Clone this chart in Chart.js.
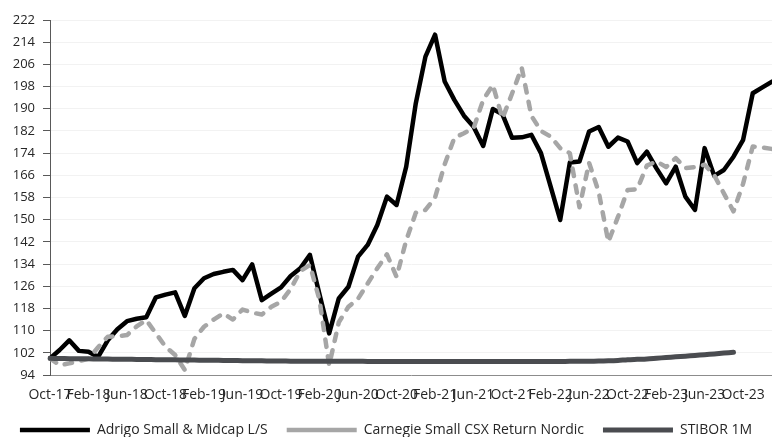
<!DOCTYPE html>
<html>
  <head>
    <meta charset="utf-8">
    <title>Adrigo Small &amp; Midcap L/S</title>
    <script src="https://cdn.jsdelivr.net/npm/chart.js@4.4.0/dist/chart.umd.min.js"></script>
    <style>
      html, body { margin: 0; padding: 0; background: #fff; }
      #chart { display: block; }
    </style>
  </head>
  <body>
    <canvas id="chart" width="772" height="437"></canvas>
    <script>
      // monthly index values, Oct-17 .. Jan-24
      var months = [
        'Oct-17','Nov-17','Dec-17','Jan-18','Feb-18','Mar-18','Apr-18','May-18','Jun-18','Jul-18','Aug-18','Sep-18',
        'Oct-18','Nov-18','Dec-18','Jan-19','Feb-19','Mar-19','Apr-19','May-19','Jun-19','Jul-19','Aug-19','Sep-19',
        'Oct-19','Nov-19','Dec-19','Jan-20','Feb-20','Mar-20','Apr-20','May-20','Jun-20','Jul-20','Aug-20','Sep-20',
        'Oct-20','Nov-20','Dec-20','Jan-21','Feb-21','Mar-21','Apr-21','May-21','Jun-21','Jul-21','Aug-21','Sep-21',
        'Oct-21','Nov-21','Dec-21','Jan-22','Feb-22','Mar-22','Apr-22','May-22','Jun-22','Jul-22','Aug-22','Sep-22',
        'Oct-22','Nov-22','Dec-22','Jan-23','Feb-23','Mar-23','Apr-23','May-23','Jun-23','Jul-23','Aug-23','Sep-23',
        'Oct-23','Nov-23','Dec-23','Jan-24'
      ];

      var adrigo = [
        100, 103, 106.5, 102.7, 102.4, 100.5, 106.5, 110.5, 113.4, 114.3, 114.8, 122,
        123, 123.8, 115.3, 125.3, 128.9, 130.4, 131.2, 131.9, 128.2, 133.9, 121, 123.3,
        125.6, 129.7, 132.5, 137.3, 123, 109, 121.6, 125.8, 136.7, 140.9, 148.1, 158.3,
        155.3, 169.1, 192, 208.8, 216.7, 199.8, 193.2, 187.5, 183.5, 176.6, 189.9, 188,
        179.5, 179.7, 180.6, 174, 162, 149.9, 170.6, 171, 181.8, 183.4, 176.3, 179.6,
        178.2, 170.4, 174.5, 168.5, 163.1, 169.1, 158.3, 153.5, 175.8, 165.8, 167.9, 172.7,
        178.8, 195.6, 197.7, 199.8
      ];

      var carnegie = [
        100, 97.5, 98.2, 99, 99.8, 104, 107.8, 108, 108.4, 111.5, 113.8, 109,
        104.2, 101.2, 95.8, 107, 111.4, 114, 116.2, 114, 117.6, 116.5, 115.8, 118.6,
        120.4, 125, 131.5, 133.7, 121, 97.5, 113, 118.6, 121.5, 127, 132.5, 137.5,
        129.4, 142.5, 152.5, 153.5, 158, 170, 179.5, 181.2, 183, 193.2, 198.6, 186.5,
        195.5, 204.8, 187.5, 182, 180, 175.8, 174, 154.5, 170.5, 160, 142, 151,
        160.7, 161, 169.5, 171, 169, 172.2, 168.6, 169, 169.8, 166, 159.5, 153,
        163, 176.4, 176, 175.5
      ];

      var stibor = [
        100, 99.95, 99.9, 99.86, 99.82, 99.78, 99.74, 99.7, 99.66, 99.62, 99.58, 99.54,
        99.5, 99.46, 99.42, 99.38, 99.34, 99.3, 99.26, 99.22, 99.18, 99.14, 99.1, 99.06,
        99.02, 99, 98.98, 98.96, 98.95, 98.94, 98.93, 98.92, 98.92, 98.91, 98.91, 98.9,
        98.9, 98.9, 98.9, 98.9, 98.9, 98.9, 98.9, 98.9, 98.9, 98.9, 98.9, 98.9,
        98.9, 98.9, 98.9, 98.9, 98.9, 98.9, 98.92, 98.94, 98.97, 99.02, 99.1, 99.25,
        99.5, 99.65, 99.8, 100.05, 100.3, 100.55, 100.8, 101.05, 101.3, 101.6, 101.9, 102.2,
        null, null, null, null
      ];

      var seriesNames = ['Adrigo Small & Midcap L/S', 'Carnegie Small CSX Return Nordic', 'STIBOR 1M'];
      var yMin = 94, yMax = 222, yStep = 8;
      var labelEvery = 4;

      var FONT = '"Open Sans", "DejaVu Sans", sans-serif';
      var TEXT = '#262626';

      var ctx = document.getElementById('chart').getContext('2d');
      new Chart(ctx, {
        type: 'line',
        data: {
          labels: months,
          datasets: [
            {
              label: seriesNames[0],
              data: adrigo,
              borderColor: '#000000',
              backgroundColor: '#000000',
              borderWidth: 4.5,
              borderJoinStyle: 'round',
              borderCapStyle: 'round',
              pointRadius: 0,
              pointStyle: 'line',
              tension: 0,
              order: 3
            },
            {
              label: seriesNames[1],
              data: carnegie,
              borderColor: '#a6a6a6',
              backgroundColor: '#a6a6a6',
              borderWidth: 4.5,
              borderDash: [7.5, 9.5],
              borderJoinStyle: 'round',
              borderCapStyle: 'round',
              pointRadius: 0,
              pointStyle: 'line',
              tension: 0,
              order: 2
            },
            {
              label: seriesNames[2],
              data: stibor,
              borderColor: '#4a4c50',
              backgroundColor: '#4a4c50',
              borderWidth: 5,
              borderJoinStyle: 'round',
              borderCapStyle: 'round',
              pointRadius: 0,
              pointStyle: 'line',
              tension: 0.3,
              spanGaps: false,
              order: 1
            }
          ]
        },
        options: {
          responsive: false,
          animation: false,
          layout: { padding: { top: 20, right: 0, bottom: -10, left: 0 } },
          plugins: {
            tooltip: { enabled: false },
            legend: {
              position: 'bottom',
              labels: {
                usePointStyle: true,
                pointStyleWidth: 70,
                padding: 19,
                color: TEXT,
                font: { family: FONT, size: 14 },
                sort: function(a, b){ return a.datasetIndex - b.datasetIndex; }
              }
            }
          },
          scales: {
            x: {
              type: 'category',
              offset: false,
              // grid hidden, tick length only used to push the labels down
              grid: { display: false, drawTicks: true, tickLength: 12 },
              border: { display: true, color: '#8c8c8c', width: 1 },
              ticks: {
                autoSkip: false,
                maxRotation: 0,
                minRotation: 0,
                padding: 0,
                color: TEXT,
                font: { family: FONT, size: 14 },
                callback: function(value, index){
                  return index % labelEvery === 0 ? months[index] : '';
                }
              },
              afterFit: function(scale){ scale.height = 29; }
            },
            y: {
              min: yMin,
              max: yMax,
              grid: { color: '#f2f2f2', lineWidth: 1, drawTicks: true, tickLength: 7, tickColor: '#595959' },
              border: { display: true, color: '#595959', width: 1 },
              ticks: {
                stepSize: yStep,
                padding: 8,
                color: TEXT,
                font: { family: FONT, size: 13 }
              },
              afterFit: function(scale){ scale.width = 50; }
            }
          }
        }
      });
    </script>
  </body>
</html>
